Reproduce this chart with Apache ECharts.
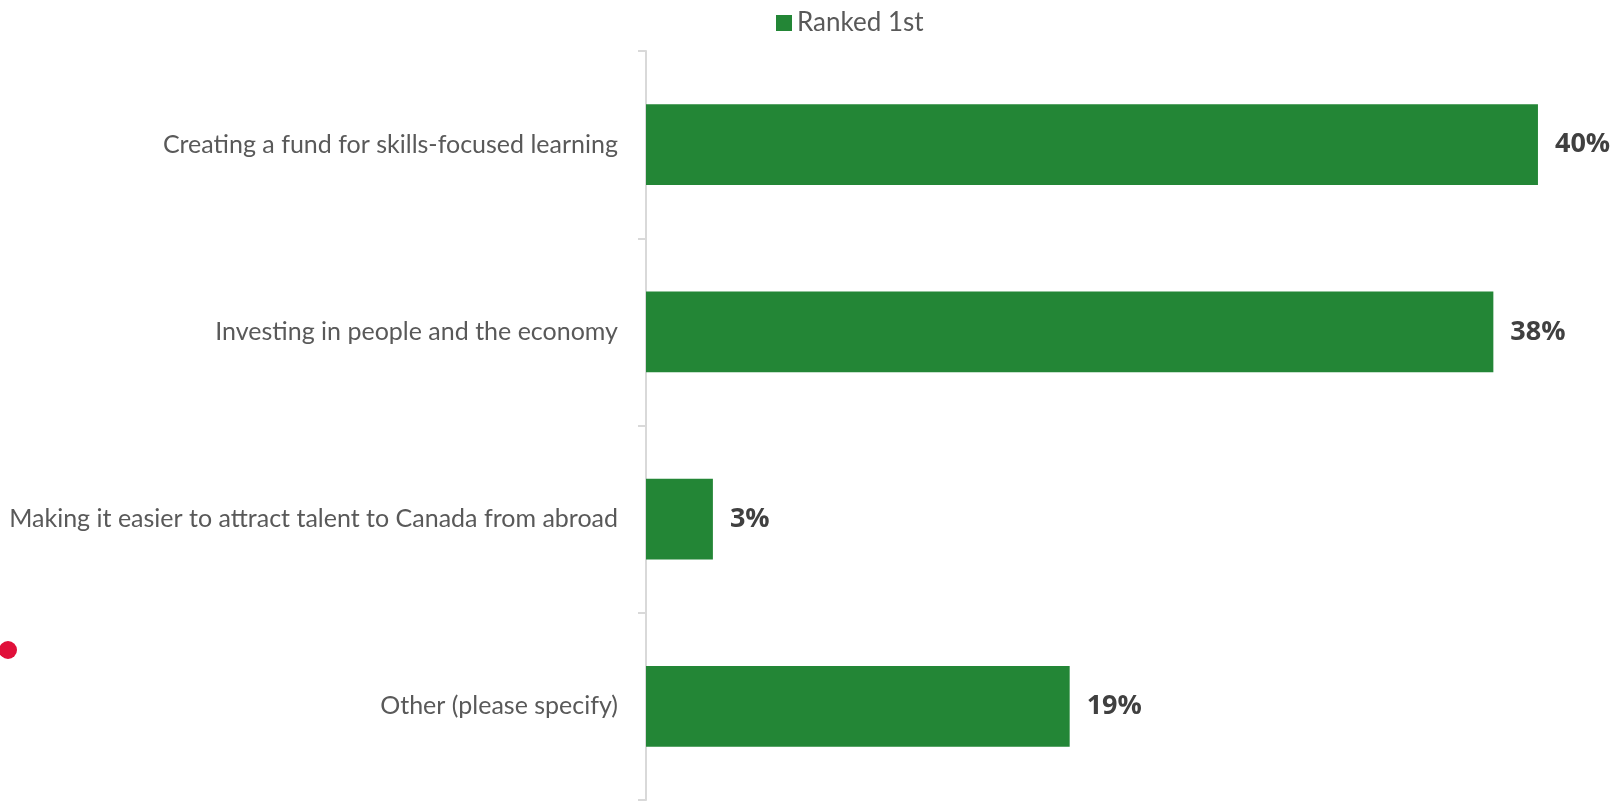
<!DOCTYPE html>
<html>
<head>
<meta charset="utf-8">
<script src="https://cdn.jsdelivr.net/npm/echarts@6/dist/echarts.min.js"></script>
<style>
  html, body { margin: 0; padding: 0; background: #fff; }
  #chart { width: 1622px; height: 801px; }
</style>
</head>
<body>
<div id="chart"></div>
<script>
// Survey answers and the share ranking each one first
const categories = [
  'Creating a fund for skills-focused learning',
  'Investing in people and the economy',
  'Making it easier to attract talent to Canada from abroad',
  'Other (please specify)'
];
const rankedFirst = [40, 38, 3, 19];
const seriesName = 'Ranked 1st';

const chart = echarts.init(document.getElementById('chart'));
chart.setOption({
  animation: false,
  legend: {
    data: [seriesName],
    top: 5,
    left: 771,
    itemWidth: 16,
    itemHeight: 16,
    itemGap: 8,
    icon: 'rect',
    textStyle: { color: '#595959', fontSize: 26, fontFamily: 'Lato' }
  },
  grid: { left: 646, right: 6, top: 51, bottom: 1, containLabel: false },
  xAxis: {
    type: 'value',
    min: 0,
    max: 43.5,
    show: false
  },
  yAxis: {
    type: 'category',
    data: categories,
    inverse: true,
    axisLine: { show: true, lineStyle: { color: '#d9d9d9', width: 2 } },
    axisTick: { show: true, length: 8, lineStyle: { color: '#d9d9d9', width: 2 } },
    axisLabel: {
      color: '#595959',
      fontSize: 25,
      fontFamily: 'Lato',
      margin: 28
    }
  },
  series: [{
    name: seriesName,
    type: 'bar',
    data: rankedFirst,
    barWidth: '43%',
    itemStyle: { color: '#238636' },
    label: {
      show: true,
      position: 'right',
      distance: 17,
      formatter: '{c}%',
      color: '#404040',
      fontSize: 27,
      fontWeight: 'bold',
      fontFamily: 'Open Sans'
    }
  }],
  graphic: [{
    type: 'circle',
    shape: { cx: 8, cy: 650, r: 9 },
    style: { fill: '#e0103a' }
  }]
});
</script>
</body>
</html>
